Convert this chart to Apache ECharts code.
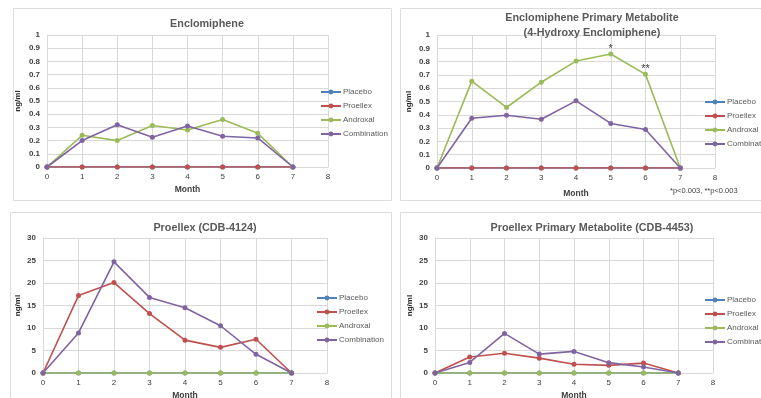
<!DOCTYPE html>
<html>
<head>
<meta charset="utf-8">
<script src="https://cdn.jsdelivr.net/npm/echarts@6/dist/echarts.min.js"></script>
<style>
  html, body { margin: 0; padding: 0; background: #fff; }
  #chart { width: 761px; height: 398px; }
</style>
</head>
<body>
<div id="chart"></div>
<script>
var months = [0, 1, 2, 3, 4, 5, 6, 7];
var seriesNames = ['Placebo', 'Proellex', 'Androxal', 'Combination'];
var seriesColors = ['#4F81BD', '#C0504D', '#9BBB59', '#8064A2'];

// Enclomiphene (ng/ml)
var enclPlacebo = [0, 0, 0, 0, 0, 0, 0, 0];
var enclProellex = [0, 0, 0, 0, 0, 0, 0, 0];
var enclAndroxal = [0, 0.24, 0.20, 0.315, 0.28, 0.36, 0.255, 0];
var enclCombination = [0, 0.20, 0.32, 0.225, 0.31, 0.233, 0.22, 0];

// Enclomiphene primary metabolite (ng/ml)
var metaPlacebo = [0, 0, 0, 0, 0, 0, 0, 0];
var metaProellex = [0, 0, 0, 0, 0, 0, 0, 0];
var metaAndroxal = [0, 0.653, 0.455, 0.645, 0.804, 0.857, 0.704, 0];
var metaCombination = [0, 0.374, 0.397, 0.367, 0.505, 0.335, 0.29, 0];
var metaAndroxalMarks = ['', '', '', '', '', '*', '**', ''];

// Proellex (CDB-4124) (ng/ml)
var proPlacebo = [0, 0, 0, 0, 0, 0, 0, 0];
var proProellex = [0, 17.2, 20.1, 13.2, 7.3, 5.7, 7.5, 0];
var proAndroxal = [0, 0, 0, 0, 0, 0, 0, 0];
var proCombination = [0, 8.9, 24.7, 16.8, 14.5, 10.5, 4.15, 0];

// Proellex primary metabolite (CDB-4453) (ng/ml)
var cdbPlacebo = [0, 0, 0, 0, 0, 0, 0, 0];
var cdbProellex = [0, 3.55, 4.4, 3.3, 1.95, 1.7, 2.2, 0];
var cdbAndroxal = [0, 0, 0, 0, 0, 0, 0, 0];
var cdbCombination = [0, 2.35, 8.8, 4.2, 4.8, 2.3, 1.35, 0];

var xTicks = [0, 8, 1];
var yTicksSmall = [0, 1, 0.1];
var yTicksLarge = [0, 30, 5];

var panels = [
    {title: 'Enclomiphene', data: [enclPlacebo, enclProellex, enclAndroxal, enclCombination],
     grid: {left: 47, top: 35, width: 281, height: 132}, yTicks: yTicksSmall,
     titlePos: [202, 12], legendPos: [320, 88], nameGap: 25, monthGap: 18},
    {title: 'Enclomiphene Primary Metabolite\n(4-Hydroxy Enclomiphene)',
     data: [metaPlacebo, metaProellex, metaAndroxal, metaCombination],
     grid: {left: 437, top: 35, width: 278, height: 133}, yTicks: yTicksSmall,
     titlePos: [587, 6], legendPos: [704, 98], nameGap: 24, monthGap: 21},
    {title: 'Proellex (CDB-4124)', data: [proPlacebo, proProellex, proAndroxal, proCombination],
     grid: {left: 43, top: 238, width: 284, height: 135}, yTicks: yTicksLarge,
     titlePos: [200, 216], legendPos: [316, 294], nameGap: 21, monthGap: 18},
    {title: 'Proellex Primary Metabolite (CDB-4453)',
     data: [cdbPlacebo, cdbProellex, cdbAndroxal, cdbCombination],
     grid: {left: 435, top: 238, width: 278, height: 135}, yTicks: yTicksLarge,
     titlePos: [587, 216], legendPos: [704, 296], nameGap: 21, monthGap: 18}
];

var font = 'Liberation Sans, Arial, sans-serif';
var gridColor = '#d9d9d9';
var textColor = '#595959';

var titles = [], grids = [], xAxes = [], yAxes = [], legends = [], series = [];

panels.forEach(function (p, i) {
    titles.push({
        text: p.title, left: p.titlePos[0], top: p.titlePos[1], textAlign: 'center',
        textStyle: {fontFamily: font, fontSize: 10.8, fontWeight: 'bold', color: textColor, lineHeight: 15}
    });
    grids.push(Object.assign({outerBoundsMode: 'none', containLabel: false}, p.grid));
    xAxes.push({
        type: 'value', gridIndex: i, min: xTicks[0], max: xTicks[1], interval: xTicks[2],
        name: 'Month', nameLocation: 'middle', nameGap: p.monthGap,
        nameTextStyle: {fontFamily: font, fontSize: 8.5, fontWeight: 'bold', color: '#404040'},
        axisLine: {lineStyle: {color: gridColor}},
        axisTick: {show: false},
        axisLabel: {fontFamily: font, fontSize: 8, color: '#404040', margin: 6},
        splitLine: {show: true, lineStyle: {color: gridColor, width: 1}}
    });
    yAxes.push({
        type: 'value', gridIndex: i, min: p.yTicks[0], max: p.yTicks[1], interval: p.yTicks[2],
        name: 'ng/ml', nameLocation: 'middle', nameGap: p.nameGap, nameRotate: 90,
        nameTextStyle: {fontFamily: font, fontSize: 8, fontWeight: 'bold', color: '#262626'},
        axisLine: {show: true, lineStyle: {color: gridColor}},
        axisTick: {show: false},
        axisLabel: {fontFamily: font, fontSize: 8, fontWeight: 'bold', color: '#404040', margin: 7},
        splitLine: {show: true, lineStyle: {color: gridColor, width: 1}}
    });
    legends.push({
        orient: 'vertical', left: p.legendPos[0], top: p.legendPos[1], padding: 0,
        itemWidth: 20, itemHeight: 6, itemGap: 6,
        data: seriesNames,
        textStyle: {fontFamily: font, fontSize: 8, color: textColor, padding: [0, 0, 0, -3]}
    });
    p.data.forEach(function (vals, k) {
        var s = {
            name: seriesNames[k], type: 'line', xAxisIndex: i, yAxisIndex: i,
            data: months.map(function (m, j) { return [m, vals[j]]; }),
            symbol: 'circle', symbolSize: 5, showAllSymbols: true,
            color: seriesColors[k],
            lineStyle: {width: 1.6, color: seriesColors[k]},
            itemStyle: {color: seriesColors[k]},
            animation: false
        };
        if (i === 1 && k === 2) {
            s.label = {
                show: true, position: 'top', distance: -3,
                fontFamily: font, fontSize: 11, color: '#404040',
                formatter: function (prm) { return metaAndroxalMarks[prm.dataIndex]; }
            };
        }
        series.push(s);
    });
});

var chart = echarts.init(document.getElementById('chart'));
chart.setOption({
    backgroundColor: '#ffffff',
    animation: false,
    title: titles,
    grid: grids,
    xAxis: xAxes,
    yAxis: yAxes,
    legend: legends,
    series: series,
    graphic: [
        {type: 'rect', z: -10, shape: {x: 13.5, y: 8.5, width: 378, height: 192}, style: {fill: '#fff', stroke: '#dcdcdc'}},
        {type: 'rect', z: -10, shape: {x: 400.5, y: 8.5, width: 400, height: 192}, style: {fill: '#fff', stroke: '#dcdcdc'}},
        {type: 'rect', z: -10, shape: {x: 10.5, y: 212.5, width: 381, height: 200}, style: {fill: '#fff', stroke: '#dcdcdc'}},
        {type: 'rect', z: -10, shape: {x: 400.5, y: 212.5, width: 400, height: 200}, style: {fill: '#fff', stroke: '#dcdcdc'}},
        {type: 'text', left: 670, top: 187, style: {text: '*p<0.003, **p<0.003', font: '7.5px ' + font, fill: '#404040'}}
    ]
});
</script>
</body>
</html>
